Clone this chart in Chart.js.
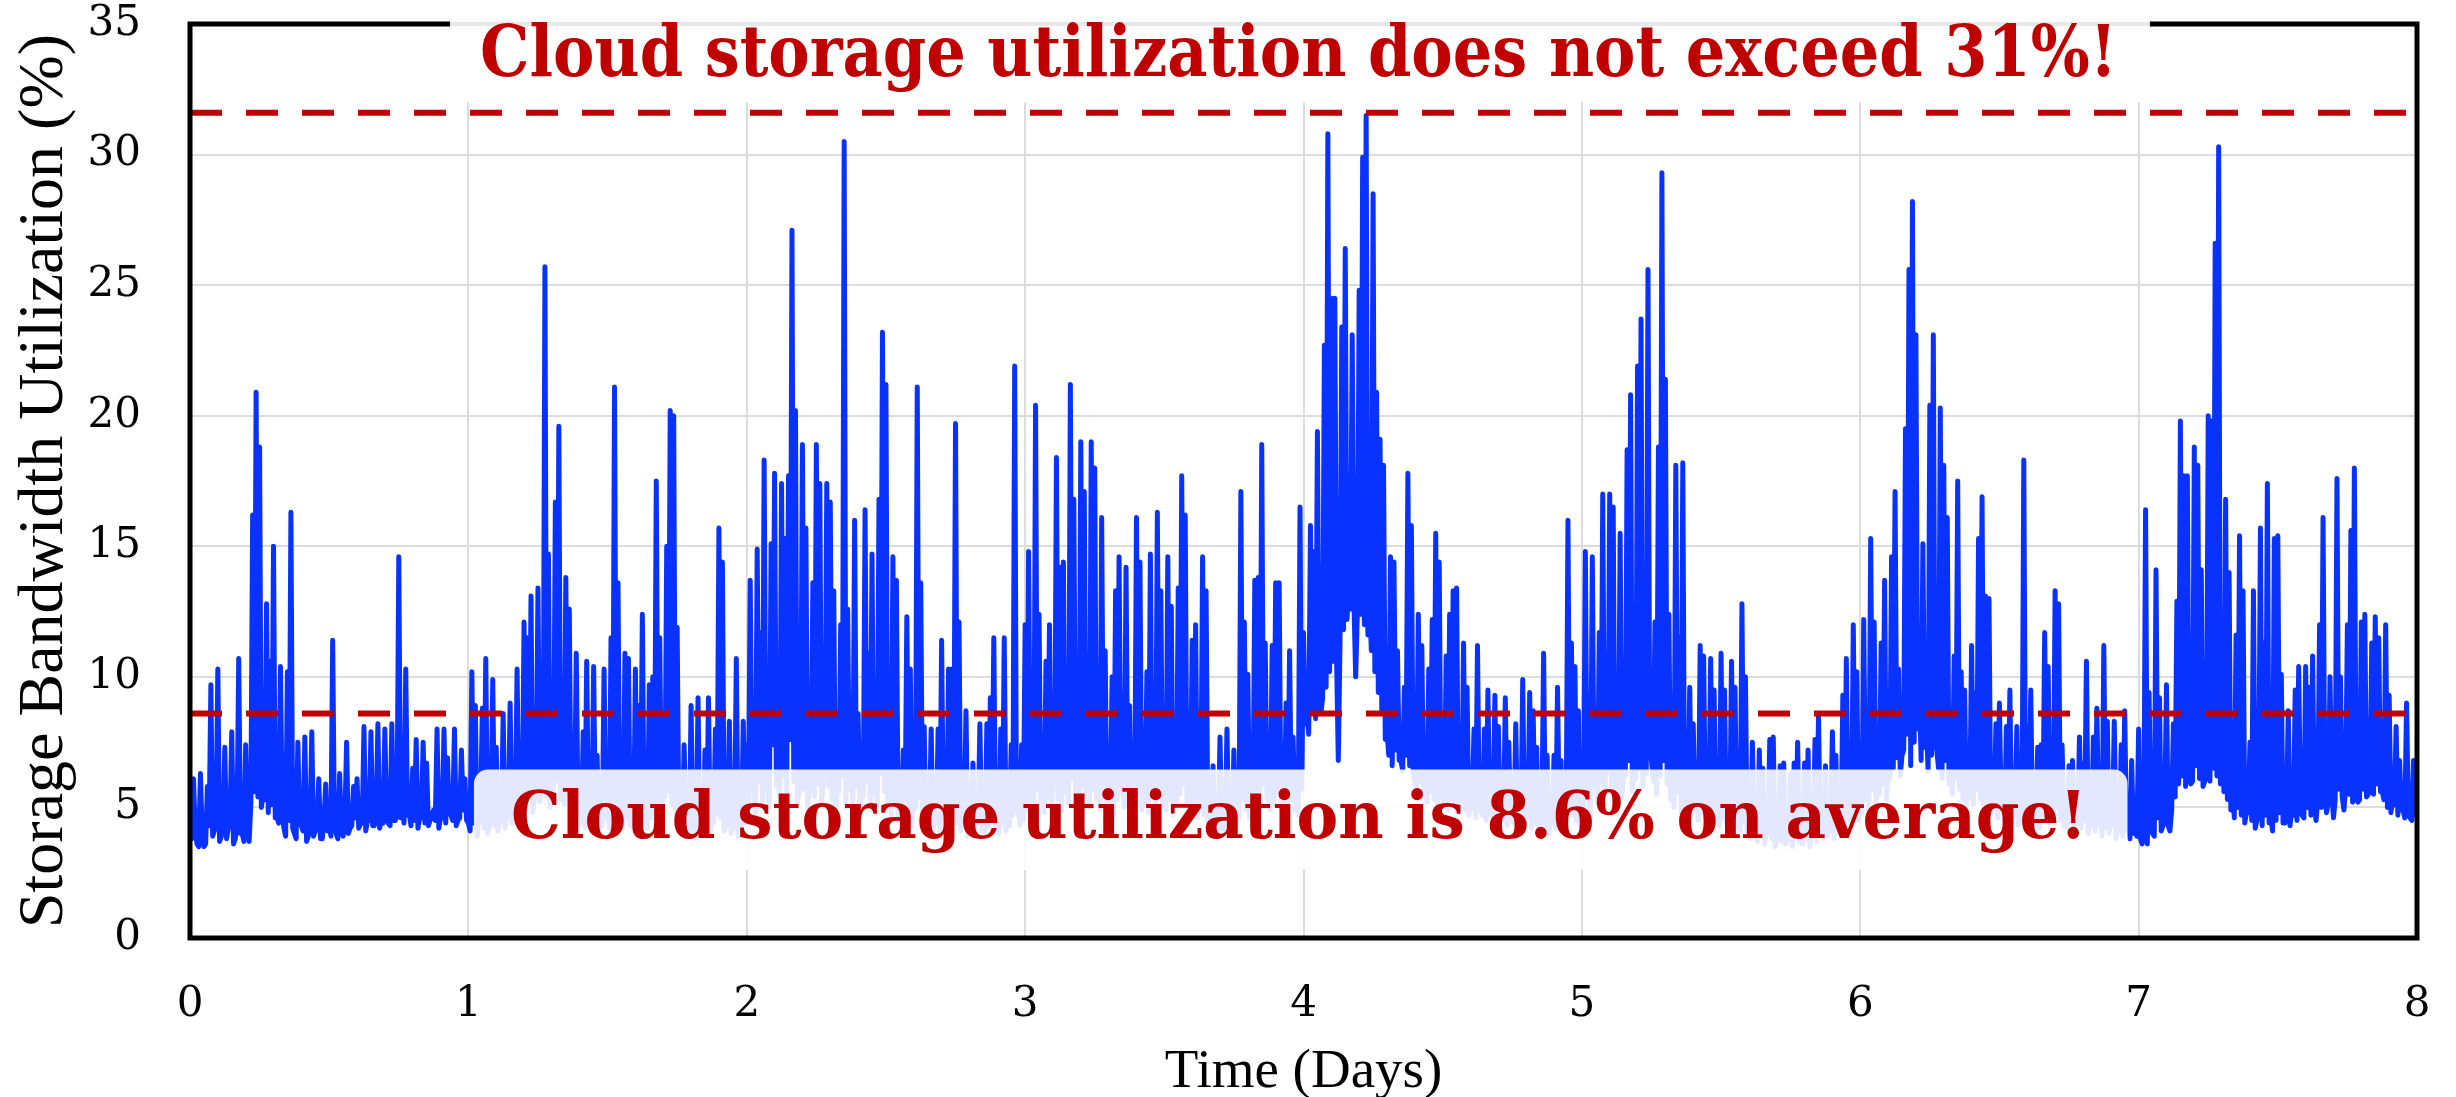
<!DOCTYPE html>
<html>
<head>
<meta charset="utf-8">
<title>Storage Bandwidth Utilization</title>
<script src="https://cdn.jsdelivr.net/npm/chart.js@4.4.1/dist/chart.umd.min.js"></script>
<style>
  html, body { margin: 0; padding: 0; background: #ffffff; }
  canvas { display: block; }
</style>
</head>
<body>
<canvas id="chart" width="2456" height="1097"></canvas>
<script>
// values, 160 per day:
// dayN holds the readings at k/80 days, lowN the dips half a step later
const PER_DAY = 160;

const day0 = [4.0, 6.1, 3.6, 6.3, 3.5, 5.8, 9.7, 4.1, 10.3, 3.9, 7.3, 4.2, 7.9, 3.8, 10.7, 4.0, 7.4, 3.7, 16.2, 20.9,
  18.8, 5.5, 12.8, 10.6, 15.0, 4.6, 10.4, 4.2, 10.2, 16.3, 4.0, 7.5, 4.3, 7.7, 3.9, 7.9, 4.1, 6.1, 3.8, 5.9,
  4.3, 11.4, 4.0, 6.3, 3.9, 7.5, 4.2, 5.8, 6.1, 4.4, 8.1, 4.5, 7.9, 4.3, 8.2, 4.6, 8.0, 4.4, 8.2, 4.5,
  14.6, 5.0, 10.3, 4.8, 6.5, 7.6, 4.6, 7.5, 6.7, 4.5, 4.9, 8.0, 4.6, 8.0, 6.9, 4.7, 8.0, 4.5, 7.2, 6.1];
const low0 = [3.8, 4.2, 3.5, 4.0, 3.6, 4.3, 3.9, 4.4, 3.7, 4.1, 3.8, 4.5, 3.6, 4.2, 4.0, 3.7, 4.3, 5.2, 5.6, 5.4,
  5.0, 5.3, 4.8, 5.1, 4.6, 4.4, 4.8, 3.9, 4.5, 4.2, 3.8, 4.4, 4.1, 3.7, 4.3, 3.9, 4.2, 3.8, 4.5, 4.1,
  3.9, 4.3, 3.8, 4.2, 4.4, 4.0, 4.3, 4.6, 4.2, 4.4, 4.1, 4.5, 4.3, 4.7, 4.2, 4.4, 4.6, 4.3, 4.5, 4.8,
  4.6, 4.4, 4.7, 4.3, 4.5, 4.2, 4.6, 4.4, 4.3, 4.7, 4.5, 4.2, 4.6, 4.4, 4.8, 4.5, 4.3, 4.6, 4.9, 4.5];
const day1 = [4.4, 10.2, 8.9, 4.6, 8.8, 10.7, 4.3, 9.9, 7.3, 4.5, 8.6, 4.8, 9.0, 4.6, 10.3, 5.0, 12.1, 11.5, 13.1, 5.4,
  13.4, 5.6, 25.7, 14.7, 8.2, 16.7, 19.6, 6.4, 13.8, 12.6, 5.8, 10.9, 5.2, 7.9, 10.6, 4.9, 10.4, 7.0, 4.8, 10.3,
  5.1, 11.5, 21.1, 13.6, 5.3, 10.9, 10.7, 5.0, 10.3, 8.9, 12.4, 5.2, 9.7, 10.0, 17.5, 11.5, 5.6, 15.0, 20.2, 20.0,
  11.9, 5.2, 7.4, 4.8, 8.9, 4.9, 9.2, 4.6, 7.2, 9.2, 4.8, 8.0, 15.7, 14.4, 5.0, 8.3, 4.7, 10.7, 4.9, 8.3];
const low1 = [4.1, 4.4, 3.9, 4.5, 4.2, 4.0, 4.6, 4.3, 4.1, 4.5, 4.2, 4.7, 4.4, 4.8, 4.5, 4.9, 5.0, 5.4, 4.8, 5.6,
  5.2, 5.8, 5.4, 5.0, 5.7, 6.0, 5.3, 5.1, 5.5, 4.9, 4.6, 5.0, 4.4, 4.2, 4.7, 4.1, 4.5, 4.0, 4.3, 4.6,
  4.2, 4.8, 5.1, 4.5, 4.2, 4.6, 4.3, 4.1, 4.5, 4.7, 4.4, 4.2, 4.6, 4.9, 5.2, 4.8, 5.4, 5.6, 5.1, 4.7,
  4.2, 4.0, 4.3, 3.9, 4.2, 3.8, 4.1, 3.9, 4.2, 4.0, 4.4, 4.8, 4.6, 4.1, 4.3, 4.0, 4.2, 3.9, 4.1, 4.4];
const day2 = [7.4, 13.7, 5.6, 14.9, 11.7, 18.3, 5.8, 15.1, 17.8, 6.0, 17.4, 15.3, 17.7, 27.1, 20.2, 5.5, 18.9, 15.7, 5.7, 13.6,
  18.9, 17.4, 6.1, 17.4, 16.7, 13.3, 5.6, 12.0, 30.5, 12.6, 6.1, 16.0, 8.6, 5.8, 16.4, 10.9, 14.7, 6.0, 16.8, 23.2,
  21.2, 6.3, 14.6, 13.7, 5.7, 7.2, 12.3, 10.3, 5.4, 21.1, 13.6, 8.1, 5.2, 8.0, 4.9, 8.0, 11.4, 5.1, 10.3, 10.3,
  19.7, 12.1, 5.0, 8.7, 4.8, 6.7, 5.2, 8.2, 4.9, 8.2, 9.2, 11.5, 5.0, 8.0, 11.5, 5.3, 7.4, 21.9, 5.1, 7.4];
const low2 = [4.9, 5.6, 4.7, 6.0, 5.2, 6.4, 5.0, 7.4, 5.8, 5.4, 6.2, 5.6, 7.6, 6.0, 5.2, 6.6, 5.7, 5.0, 6.3, 5.4,
  5.9, 5.1, 7.2, 5.8, 5.3, 4.8, 5.6, 6.2, 5.0, 5.7, 5.2, 5.8, 4.7, 5.4, 6.0, 4.9, 5.5, 5.1, 6.3, 5.6,
  5.0, 4.7, 5.2, 4.5, 4.9, 4.4, 4.8, 4.3, 5.0, 5.4, 4.5, 4.2, 4.6, 4.1, 4.4, 4.0, 4.5, 4.2, 4.7, 5.0,
  4.4, 4.1, 4.3, 3.9, 4.2, 4.0, 4.4, 4.1, 3.9, 4.3, 4.6, 4.2, 4.0, 4.4, 4.1, 4.3, 4.7, 4.9, 4.3, 4.5];
const day3 = [12.0, 14.8, 5.9, 20.4, 12.4, 6.1, 10.6, 12.0, 5.8, 18.4, 14.2, 14.4, 6.3, 21.2, 16.8, 6.5, 19.0, 17.1, 6.7, 19.0,
  18.0, 6.2, 16.1, 11.0, 5.9, 10.0, 13.3, 14.6, 5.7, 14.2, 8.9, 5.5, 16.1, 14.4, 5.6, 10.2, 14.7, 5.8, 16.3, 13.3,
  5.9, 14.6, 12.7, 5.7, 13.4, 17.7, 16.2, 5.6, 11.4, 12.0, 5.4, 14.6, 13.3, 5.2, 6.6, 4.8, 7.7, 5.0, 8.0, 4.9,
  7.2, 5.3, 17.1, 12.1, 10.1, 5.6, 13.7, 13.8, 18.9, 11.3, 5.7, 11.2, 13.6, 13.6, 5.5, 9.0, 11.0, 7.7, 5.4, 16.5];
const low3 = [4.9, 5.3, 4.7, 5.7, 5.1, 4.8, 5.4, 5.0, 5.9, 5.3, 4.9, 5.6, 5.1, 6.1, 5.5, 5.2, 5.8, 5.4, 5.0, 5.7,
  5.3, 4.9, 5.5, 4.8, 5.1, 4.7, 5.3, 5.6, 5.0, 5.4, 4.7, 5.1, 5.5, 4.9, 5.2, 4.8, 5.4, 5.0, 5.7, 5.1,
  4.9, 5.3, 4.7, 5.1, 5.5, 5.9, 5.2, 4.8, 5.1, 4.6, 5.0, 4.7, 4.4, 4.1, 4.3, 3.9, 4.2, 4.0, 4.3, 3.9,
  4.2, 4.6, 5.3, 4.9, 4.6, 5.1, 5.5, 5.2, 5.9, 5.3, 4.9, 5.1, 5.6, 5.2, 4.8, 5.0, 5.3, 4.9, 4.7, 5.7];
const day4 = [11.7, 8.6, 15.8, 14.8, 19.4, 8.6, 22.7, 30.8, 24.5, 24.5, 6.8, 23.4, 26.4, 13.4, 23.1, 10.0, 24.8, 29.9, 31.5, 12.9,
  28.5, 20.9, 19.1, 18.1, 7.9, 14.6, 14.4, 11.0, 6.8, 9.6, 17.8, 15.8, 6.0, 12.4, 11.2, 5.6, 10.3, 12.2, 15.5, 14.4,
  5.5, 10.8, 12.4, 13.3, 13.4, 5.3, 11.3, 9.6, 5.0, 8.0, 11.2, 4.9, 8.0, 9.5, 4.7, 9.3, 8.1, 4.6, 9.2, 7.5,
  4.5, 8.2, 4.8, 9.9, 4.6, 9.4, 8.7, 7.3, 4.4, 10.9, 7.0, 4.5, 7.0, 9.6, 6.8, 4.3, 16.0, 11.3, 10.4, 8.7];
const low4 = [8.2, 7.8, 8.6, 8.4, 8.8, 9.2, 9.6, 10.2, 10.6, 10.8, 11.4, 11.8, 12.2, 12.6, 12.8, 12.6, 12.4, 12.0, 11.6, 11.0,
  10.2, 9.4, 8.6, 7.6, 7.0, 6.6, 7.2, 6.8, 6.4, 7.0, 6.6, 6.2, 5.8, 6.0, 5.5, 5.2, 5.6, 5.3, 5.0, 5.4,
  5.1, 4.9, 5.3, 5.0, 4.8, 5.2, 4.9, 4.7, 5.0, 4.6, 4.9, 4.7, 4.5, 4.8, 4.6, 4.4, 4.7, 4.5, 4.3, 4.6,
  4.4, 4.2, 4.5, 4.3, 4.6, 4.2, 4.4, 4.1, 4.5, 4.3, 4.0, 4.4, 4.2, 4.5, 4.1, 4.6, 5.0, 4.7, 4.5, 4.3];
const day5 = [6.6, 14.8, 5.4, 14.6, 6.2, 11.7, 17.0, 6.8, 17.0, 16.5, 5.6, 15.5, 6.4, 18.7, 20.8, 6.9, 21.9, 23.7, 7.2, 25.6,
  6.8, 12.1, 18.8, 29.3, 21.4, 12.4, 7.7, 18.1, 11.5, 18.2, 5.5, 9.6, 8.2, 4.9, 11.2, 10.8, 4.7, 10.7, 9.5, 4.6,
  10.9, 9.5, 4.5, 10.6, 9.6, 4.3, 12.8, 10.0, 4.2, 7.5, 3.9, 7.2, 6.5, 4.0, 7.6, 7.7, 3.8, 6.6, 6.7, 3.9,
  6.3, 6.7, 7.5, 3.7, 6.7, 7.2, 4.0, 7.6, 8.5, 4.1, 6.6, 4.3, 7.9, 7.0, 4.2, 9.3, 10.7, 4.6, 12.0, 10.2];
const low5 = [4.8, 5.4, 4.6, 5.8, 5.2, 6.0, 5.5, 6.4, 5.8, 5.2, 5.9, 5.4, 6.2, 6.8, 5.6, 6.1, 6.5, 5.8, 6.3, 7.0,
  6.0, 5.5, 6.2, 6.8, 5.9, 5.3, 5.0, 5.6, 4.8, 4.6, 5.0, 4.7, 4.9, 4.5, 4.8, 4.6, 4.4, 4.7, 4.5, 4.3,
  4.6, 4.4, 4.2, 4.5, 4.3, 4.1, 4.4, 4.0, 3.8, 4.1, 3.7, 3.9, 3.6, 4.0, 3.8, 3.5, 3.9, 3.7, 3.6, 3.8,
  3.5, 3.9, 3.7, 3.6, 3.8, 3.5, 3.9, 3.7, 4.0, 3.8, 3.9, 4.1, 3.8, 4.0, 4.2, 4.4, 4.6, 4.3, 4.8, 4.5];
const day6 = [5.2, 12.2, 5.9, 15.3, 12.1, 6.1, 11.3, 13.7, 6.5, 14.6, 17.1, 10.3, 7.0, 19.5, 25.6, 28.2, 23.1, 9.4, 15.1, 8.3,
  20.4, 23.1, 7.2, 20.3, 18.1, 16.1, 6.8, 10.8, 17.5, 10.2, 9.5, 6.4, 11.2, 9.4, 15.3, 16.9, 13.1, 13.0, 6.0, 8.2,
  9.0, 5.6, 8.1, 9.5, 5.4, 8.1, 5.6, 18.3, 8.1, 9.5, 5.3, 7.3, 7.4, 11.7, 10.4, 5.5, 13.3, 12.8, 7.4, 5.2,
  6.6, 6.8, 4.9, 7.7, 6.7, 10.6, 5.0, 7.7, 8.8, 4.8, 11.2, 8.3, 4.7, 8.3, 4.6, 7.4, 8.7, 4.5, 6.8, 4.4];
const low6 = [4.8, 5.3, 4.9, 5.7, 5.1, 5.5, 5.9, 5.3, 6.1, 6.5, 6.9, 6.2, 7.2, 7.8, 6.6, 7.5, 8.0, 6.8, 7.3, 6.4,
  7.0, 7.7, 6.5, 6.1, 6.8, 5.9, 5.5, 6.1, 5.7, 5.3, 5.0, 5.4, 5.1, 5.7, 5.3, 4.9, 5.2, 4.8, 5.0, 4.6,
  4.9, 4.5, 4.8, 4.4, 4.7, 4.3, 4.6, 5.0, 4.5, 4.3, 4.6, 4.2, 4.5, 4.8, 4.4, 4.7, 5.0, 4.5, 4.3, 4.2,
  4.5, 4.1, 4.4, 4.2, 4.5, 4.0, 4.3, 4.1, 4.4, 3.9, 4.2, 4.0, 4.3, 3.8, 4.1, 3.9, 4.2, 3.8, 4.0, 3.9];
const day7 = [8.0, 3.6, 16.4, 9.4, 4.0, 14.1, 9.2, 4.3, 9.7, 4.1, 8.2, 12.9, 19.8, 17.7, 17.7, 5.9, 18.8, 18.1, 14.1, 6.0,
  20.0, 19.8, 26.6, 30.3, 10.6, 16.8, 14.0, 5.6, 11.6, 15.4, 13.3, 4.8, 7.5, 13.3, 4.5, 15.7, 11.3, 17.4, 4.6, 15.3,
  15.4, 10.1, 4.4, 8.7, 4.9, 9.5, 10.4, 4.7, 10.4, 9.6, 10.8, 4.5, 12.0, 16.1, 4.8, 10.0, 4.6, 17.6, 10.0, 4.9,
  12.0, 15.6, 18.0, 5.2, 12.1, 12.4, 5.5, 11.3, 12.3, 11.5, 5.6, 12.0, 9.3, 5.3, 8.1, 6.8, 4.9, 9.0, 4.6, 6.8];
const low7 = [3.8, 4.2, 3.6, 4.4, 3.9, 4.6, 4.1, 4.8, 4.3, 4.9, 5.4, 5.9, 6.2, 5.8, 6.4, 6.0, 6.6, 6.1, 5.8, 6.3,
  6.0, 6.5, 6.2, 5.9, 5.6, 5.3, 4.9, 4.6, 5.0, 4.7, 4.4, 4.8, 4.5, 4.2, 4.6, 4.3, 4.7, 4.4, 4.1, 4.5,
  4.8, 4.4, 4.6, 4.3, 4.7, 4.5, 4.9, 4.6, 5.0, 4.7, 5.1, 5.4, 5.0, 5.5, 5.2, 5.6, 5.3, 5.7, 5.4, 5.8,
  5.5, 5.2, 5.6, 5.3, 5.7, 5.4, 5.8, 5.5, 5.9, 5.6, 5.3, 5.0, 4.8, 5.1, 4.7, 4.9, 4.6, 4.8, 4.5, 4.7];
const dayEnd = [5.4];

// reference lines and notes
const PEAK_LINE = 31.6;
const AVG_LINE = 8.6;
const PEAK_NOTE = 'Cloud storage utilization does not exceed 31%!';
const AVG_NOTE = 'Cloud storage utilization is 8.6% on average!';

// axis ticks
const DAY_TICKS = [0, 1, 2, 3, 4, 5, 6, 7, 8];
const UTIL_TICKS = [0, 5, 10, 15, 20, 25, 30, 35];

const RED = '#c00000';
const BLUE = '#0a32ff';

// put the readings back in time order
var days = [day0, day1, day2, day3, day4, day5, day6, day7];
var lows = [low0, low1, low2, low3, low4, low5, low6, low7];
var series = [];
days.forEach(function (day, d) {
  day.forEach(function (v, k) {
    series.push(v, lows[d][k]);
  });
});
series = series.concat(dayEnd);
var points = series.map(function (v, i) { return { x: i / PER_DAY, y: v }; });

function flatLine(v) {
  return [{ x: DAY_TICKS[0], y: v }, { x: DAY_TICKS[DAY_TICKS.length - 1], y: v }];
}

// chart.js adds room for the end labels plus tick padding, we want a fixed plot box
function fixedBox(size, key) {
  return function (s) {
    s[key] = size;
    s.paddingTop = 0;
    s.paddingBottom = 0;
    s.paddingLeft = 0;
    s.paddingRight = 0;
  };
}

// draws a note so that it fills the span [d0, d1] (in days) horizontally
function drawNote(ctx, xs, text, d0, d1, baseline, size) {
  var left = xs.getPixelForValue(d0);
  var right = xs.getPixelForValue(d1);
  ctx.save();
  ctx.font = 'bold ' + size + 'px "DejaVu Serif"';
  ctx.fillStyle = RED;
  ctx.textAlign = 'center';
  ctx.textBaseline = 'alphabetic';
  var w = ctx.measureText(text).width;
  ctx.translate((left + right) / 2, baseline);
  ctx.scale((right - left) / w, 1);
  ctx.fillText(text, 0, 0);
  ctx.restore();
}

function roundBox(ctx, x0, y0, x1, y1, r) {
  ctx.beginPath();
  ctx.moveTo(x0 + r, y0);
  ctx.arcTo(x1, y0, x1, y1, r);
  ctx.arcTo(x1, y1, x0, y1, r);
  ctx.arcTo(x0, y1, x0, y0, r);
  ctx.arcTo(x0, y0, x1, y0, r);
  ctx.closePath();
}

// frame round the plot plus the two notes
const framePlugin = {
  id: 'frameAndNotes',
  afterDatasetsDraw: function (chart) {
    var ctx = chart.ctx;
    var a = chart.chartArea;
    var xs = chart.scales.x;
    var ys = chart.scales.y;

    ctx.save();
    ctx.strokeStyle = '#000';
    ctx.lineWidth = 5;
    ctx.strokeRect(a.left, a.top, a.right - a.left, a.bottom - a.top);

    // top note sits on a white box that hides the frame
    var bx0 = xs.getPixelForValue(0.934);
    var bx1 = xs.getPixelForValue(7.04);
    var by1 = ys.getPixelForValue(32.0);
    ctx.fillStyle = '#ffffff';
    ctx.fillRect(bx0, a.top - 4, bx1 - bx0, by1 - a.top + 4);
    ctx.strokeStyle = '#e8e8e8';
    ctx.lineWidth = 4;
    ctx.beginPath();
    ctx.moveTo(bx0, a.top);
    ctx.lineTo(bx1, a.top);
    ctx.stroke();
    drawNote(ctx, xs, PEAK_NOTE, 1.042, 6.922, ys.getPixelForValue(33.0), 71);

    // bottom note on a see-through white box
    var cx0 = xs.getPixelForValue(1.02);
    var cx1 = xs.getPixelForValue(6.96);
    var cy0 = ys.getPixelForValue(6.45);
    var cy1 = ys.getPixelForValue(2.6);
    ctx.fillStyle = 'rgba(255, 255, 255, 0.89)';
    roundBox(ctx, cx0, cy0, cx1, cy1, 14);
    ctx.fill();
    drawNote(ctx, xs, AVG_NOTE, 1.153, 6.814, ys.getPixelForValue(3.83), 66);
    ctx.restore();
  }
};

Chart.defaults.font.family = '"DejaVu Serif", serif';
Chart.defaults.color = '#000';

var chart = new Chart(document.getElementById('chart'), {
  type: 'line',
  data: {
    datasets: [
      {
        data: flatLine(PEAK_LINE),
        borderColor: RED,
        borderWidth: 6,
        borderDash: [32, 24],
        pointRadius: 0,
        order: 0
      },
      {
        data: flatLine(AVG_LINE),
        borderColor: RED,
        borderWidth: 6,
        borderDash: [32, 24],
        pointRadius: 0,
        order: 0
      },
      {
        label: 'Storage Bandwidth Utilization',
        data: points,
        borderColor: BLUE,
        borderWidth: 5,
        borderJoinStyle: 'round',
        borderCapStyle: 'round',
        pointRadius: 0,
        tension: 0,
        order: 1
      }
    ]
  },
  options: {
    responsive: false,
    animation: false,
    devicePixelRatio: 1,
    layout: { padding: { top: 24, right: 39, left: 0, bottom: 0 } },
    plugins: {
      legend: { display: false },
      tooltip: { enabled: false }
    },
    scales: {
      x: {
        type: 'linear',
        min: DAY_TICKS[0],
        max: DAY_TICKS[DAY_TICKS.length - 1],
        afterBuildTicks: function (s) { s.ticks = DAY_TICKS.map(function (v) { return { value: v }; }); },
        afterFit: fixedBox(159, 'height'),
        grid: { color: '#dcdcdc', lineWidth: 2, drawTicks: false },
        border: { display: false },
        ticks: {
          maxRotation: 0,
          padding: 42,
          font: { family: '"DejaVu Serif"', size: 42, lineHeight: 1.2 },
          callback: function (v) { return String(v); }
        },
        title: {
          display: true,
          text: 'Time (Days)',
          font: { family: '"Liberation Serif"', size: 55, lineHeight: 0.9 },
          padding: { top: 0, bottom: 0 }
        }
      },
      y: {
        min: UTIL_TICKS[0],
        max: UTIL_TICKS[UTIL_TICKS.length - 1],
        afterBuildTicks: function (s) { s.ticks = UTIL_TICKS.map(function (v) { return { value: v }; }); },
        afterFit: fixedBox(190, 'width'),
        grid: { color: '#dcdcdc', lineWidth: 2, drawTicks: false },
        border: { display: false },
        ticks: {
          padding: 49,
          font: { family: '"DejaVu Serif"', size: 42, lineHeight: 1.2 },
          callback: function (v) { return String(v); }
        },
        title: {
          display: true,
          text: 'Storage Bandwidth Utilization (%)',
          font: { family: '"Liberation Serif"', size: 64, lineHeight: 1 },
          padding: { top: 13, bottom: 0 }
        }
      }
    }
  },
  plugins: [framePlugin]
});
</script>
</body>
</html>
